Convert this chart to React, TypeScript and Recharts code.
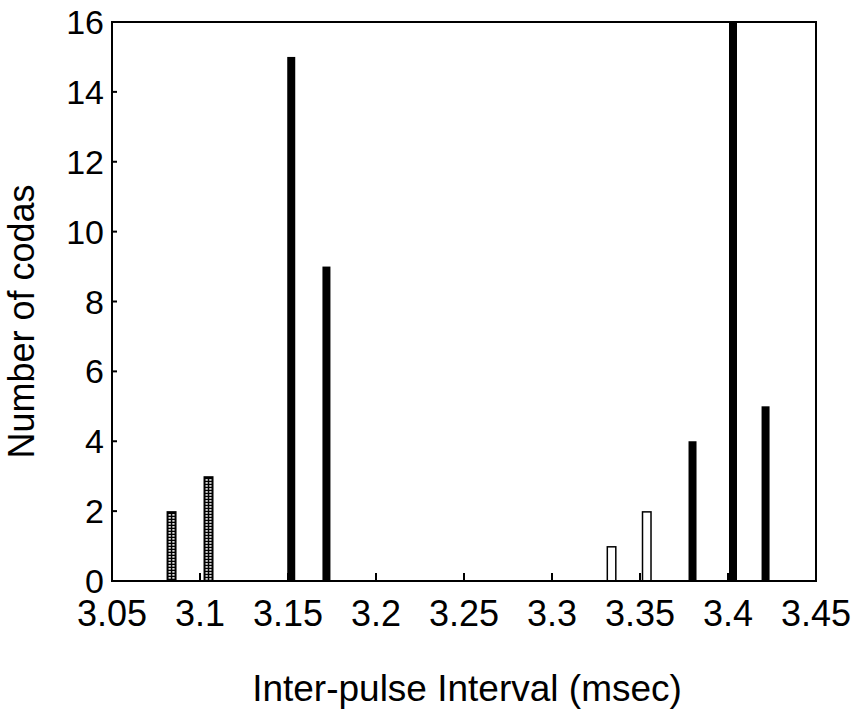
import { BarChart, Bar, XAxis, YAxis, ReferenceArea } from "recharts";

// inter-pulse interval (msec) of each bar
const intervals = [3.084, 3.105, 3.152, 3.172, 3.334, 3.354, 3.38, 3.403, 3.4215];
const codaCounts = [2, 3, 15, 9, 1, 2, 4, 16, 5];
// fill style of each bar: hatched, solid black, open (white)
const barStyles = ["hatched", "hatched", "solid", "solid", "open", "open", "solid", "solid", "solid"];

const xTicks = [3.05, 3.1, 3.15, 3.2, 3.25, 3.3, 3.35, 3.4, 3.45];
const yTicks = [0, 2, 4, 6, 8, 10, 12, 14, 16];

const data = intervals.map((x, i) => ({ x, count: codaCounts[i], style: barStyles[i] }));

const FONT = '"Liberation Sans", Arial, sans-serif';

function CodaBar(props: any) {
  const { x, y, width, height } = props;
  const style = props.payload?.style ?? props.style;
  if (!height || height <= 0) return null;
  if (style === "solid") {
    return <rect x={x + 1} y={y} width={width - 2} height={height} fill="#000" />;
  }
  if (style === "open") {
    return (
      <rect
        x={x + 0.75}
        y={y + 0.75}
        width={width - 1.5}
        height={height - 0.75}
        fill="#fff"
        stroke="#000"
        strokeWidth={1.5}
      />
    );
  }
  // hatched: black box with short white dashes either side of a centre line
  const dashes = [];
  const inner = (width - 4 - 1.5) / 2;
  for (let yy = y + 3; yy < y + height - 2; yy += 3) {
    dashes.push(<rect key={"a" + yy} x={x + 2} y={yy} width={inner} height={1.5} fill="#fff" />);
    dashes.push(<rect key={"b" + yy} x={x + 2 + inner + 1.5} y={yy} width={inner} height={1.5} fill="#fff" />);
  }
  return (
    <g>
      <rect x={x} y={y} width={width} height={height} fill="#000" />
      {dashes}
    </g>
  );
}

export default function App() {
  return (
    <div style={{ position: "absolute", left: 0, top: 0, background: "#fff" }}>
      <BarChart
        width={853}
        height={709}
        data={data}
        margin={{ top: 22, right: 37, left: 0, bottom: 0 }}
      >
        <XAxis
          dataKey="x"
          type="number"
          domain={[3.05, 3.45]}
          ticks={xTicks}
          allowDataOverflow
          height={128}
          axisLine={{ stroke: "#000", strokeWidth: 2 }}
          tickLine={{ stroke: "#000", strokeWidth: 2 }}
          tickSize={-8}
          tickMargin={27}
          tick={{ fill: "#000", fontSize: 36, fontFamily: FONT }}
          label={{
            content: ({ viewBox }: any) => (
              <text
                x={viewBox.x + viewBox.width / 2 + 3}
                y={viewBox.y + 120}
                textAnchor="middle"
                fontSize={37}
                fontFamily={FONT}
                fill="#000"
              >
                Inter-pulse Interval (msec)
              </text>
            ),
          }}
        />
        <YAxis
          type="number"
          domain={[0, 16]}
          ticks={yTicks}
          width={112}
          axisLine={{ stroke: "#000", strokeWidth: 2 }}
          tickLine={{ stroke: "#000", strokeWidth: 2 }}
          tickSize={-5}
          tickMargin={13}
          tick={{ fill: "#000", fontSize: 34, fontFamily: FONT }}
          label={{
            content: ({ viewBox }: any) => {
              const cx = 34;
              const cy = viewBox.y + viewBox.height / 2 + 20;
              return (
                <text
                  x={cx}
                  y={cy}
                  transform={`rotate(-90, ${cx}, ${cy})`}
                  textAnchor="middle"
                  fontSize={36}
                  fontFamily={FONT}
                  fill="#000"
                >
                  Number of codas
                </text>
              );
            },
          }}
        />
        <ReferenceArea
          x1={3.05}
          x2={3.45}
          y1={0}
          y2={16}
          fill="none"
          fillOpacity={0}
          stroke="#000"
          strokeWidth={2}
        />
        <Bar dataKey="count" barSize={10} shape={CodaBar} isAnimationActive={false} />
      </BarChart>
    </div>
  );
}
